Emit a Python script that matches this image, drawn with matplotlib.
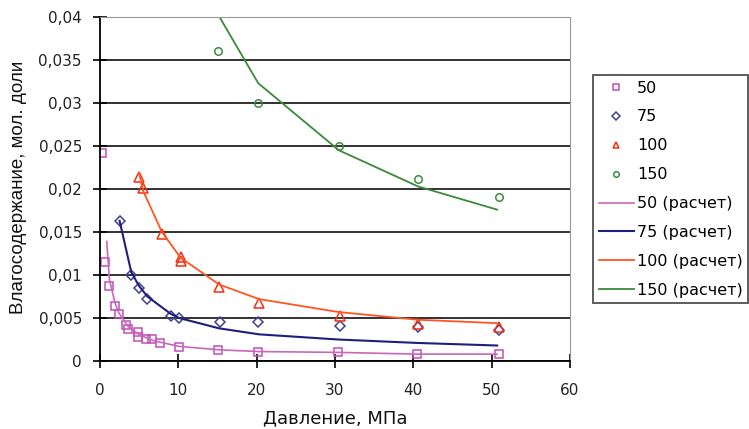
import matplotlib
matplotlib.use("Agg")
import matplotlib.pyplot as plt
from matplotlib.ticker import FuncFormatter, MultipleLocator

# Experimental data
x50 = [0.3, 0.64, 1.2, 1.9, 2.4, 3.3, 3.6, 4.8, 4.8, 5.9, 6.7, 7.6, 10.1, 15.1, 20.2, 30.4, 40.5, 50.9]
y50 = [0.0242, 0.01155, 0.0087, 0.0064, 0.0055, 0.0042, 0.0037, 0.0034, 0.0028, 0.0026, 0.0026, 0.0021,
       0.0016, 0.0013, 0.0011, 0.0011, 0.0008, 0.0008]
x75 = [2.5, 4.0, 5.0, 6.05, 9.0, 10.1, 15.3, 20.2, 30.6, 40.6, 50.9]
y75 = [0.0163, 0.0100, 0.0085, 0.0072, 0.0052, 0.0050, 0.0045, 0.0045, 0.0041, 0.0039, 0.0036]
x100 = [5.0, 5.5, 7.9, 10.3, 10.3, 15.2, 20.3, 30.6, 40.6, 50.9]
y100 = [0.0214, 0.0201, 0.0148, 0.0121, 0.0116, 0.0086, 0.0068, 0.0052, 0.0043, 0.0040]
x150 = [15.1, 20.2, 30.5, 40.6, 50.9]
y150 = [0.0360, 0.0300, 0.0250, 0.0212, 0.0191]

# Calculated curves
xc50 = [0.86, 1.2, 1.9, 2.4, 3.3, 3.6, 4.8, 5.9, 6.7, 7.6, 10.1, 15.2, 20.3, 30.4, 40.5, 50.7]
yc50 = [0.0139, 0.0095, 0.0068, 0.0056, 0.0044, 0.0040, 0.0032, 0.0027, 0.0024, 0.0022, 0.0017,
        0.0013, 0.0011, 0.0010, 0.0008, 0.0008]
xc75 = [2.5, 4.0, 5.0, 6.05, 9.0, 10.1, 15.2, 20.3, 30.4, 40.5, 50.7]
yc75 = [0.0163, 0.0103, 0.0087, 0.0075, 0.0055, 0.0050, 0.0038, 0.0031, 0.0025, 0.0021, 0.0018]
xc100 = [5.0, 5.5, 7.9, 10.3, 15.2, 20.3, 30.4, 40.5, 50.7]
yc100 = [0.0218, 0.0198, 0.0150, 0.0120, 0.0089, 0.0072, 0.0057, 0.0048, 0.0044]
xc150 = [15.0, 20.2, 30.5, 40.6, 50.7]
yc150 = [0.0404, 0.0323, 0.0245, 0.0203, 0.0176]

plt.rcParams['font.family'] = ['DejaVu Sans']

fig = plt.figure(figsize=(7.49, 4.29), dpi=100)
ax = fig.add_axes([100/749, 68/429, 470/749, 344/429])

ax.yaxis.grid(True, color='#222222', linewidth=1.3)
ax.set_axisbelow(True)

ms = 6.0
h1, = ax.plot(x50, y50, ls='none', marker='s', mfc='none', mec='#C050B8', ms=ms, mew=1.1, label='50')
h2, = ax.plot(x75, y75, ls='none', marker='D', mfc='none', mec='#404098', ms=ms-0.8, mew=1.1, label='75')
h3, = ax.plot(x100, y100, ls='none', marker='^', mfc='none', mec='#F03010', ms=ms+0.6, mew=1.1, label='100')
h4, = ax.plot(x150, y150, ls='none', marker='o', mfc='none', mec='#3C8C3C', ms=ms-0.6, mew=1.1, label='150')
l1, = ax.plot(xc50, yc50, color='#CC66BB', lw=1.2, label='50 (расчет)')
l2, = ax.plot(xc75, yc75, color='#1F1F7A', lw=1.5, label='75 (расчет)')
l3, = ax.plot(xc100, yc100, color='#FF5522', lw=1.3, label='100 (расчет)')
l4, = ax.plot(xc150, yc150, color='#3A8A3A', lw=1.3, label='150 (расчет)')

ax.set_xlim(0, 60)
ax.set_ylim(0, 0.04)
ax.xaxis.set_major_locator(MultipleLocator(10))
ax.yaxis.set_major_locator(MultipleLocator(0.005))
ax.xaxis.set_major_formatter(FuncFormatter(lambda v, p: f"{v:g}"))
ax.yaxis.set_major_formatter(FuncFormatter(lambda v, p: f"{v:g}".replace('.', ',')))
ax.tick_params(axis='both', labelsize=11, direction='inout', length=10, width=1.2,
               color='black', labelcolor='#222222')
ax.tick_params(axis='x', pad=11)
ax.tick_params(axis='y', pad=8)

for s in ['left', 'bottom']:
    ax.spines[s].set_color('black')
    ax.spines[s].set_linewidth(1.3)
ax.spines['top'].set_color('#999999')
ax.spines['right'].set_color('#999999')

ax.set_xlabel('Давление, МПа', fontsize=13, color='#111111')
ax.xaxis.set_label_coords(0.5, -0.142)
ax.set_ylabel('Влагосодержание, мол. доли', fontsize=13.5, color='#111111',
              family=['Liberation Sans', 'DejaVu Sans'])
ax.yaxis.set_label_coords(-0.155, 0.504)

leg = fig.legend(handles=[h1, h2, h3, h4, l1, l2, l3, l4],
                 loc='upper left', bbox_to_anchor=(593/749, 1 - 75/429),
                 fontsize=11.5, frameon=True, fancybox=False, edgecolor='#333333',
                 handlelength=2.2, handletextpad=0.2, labelspacing=0.87,
                 borderpad=0.35, borderaxespad=0, markerscale=0.75)
leg.get_frame().set_linewidth(1.4)

fig.savefig('out.png', dpi=100)
